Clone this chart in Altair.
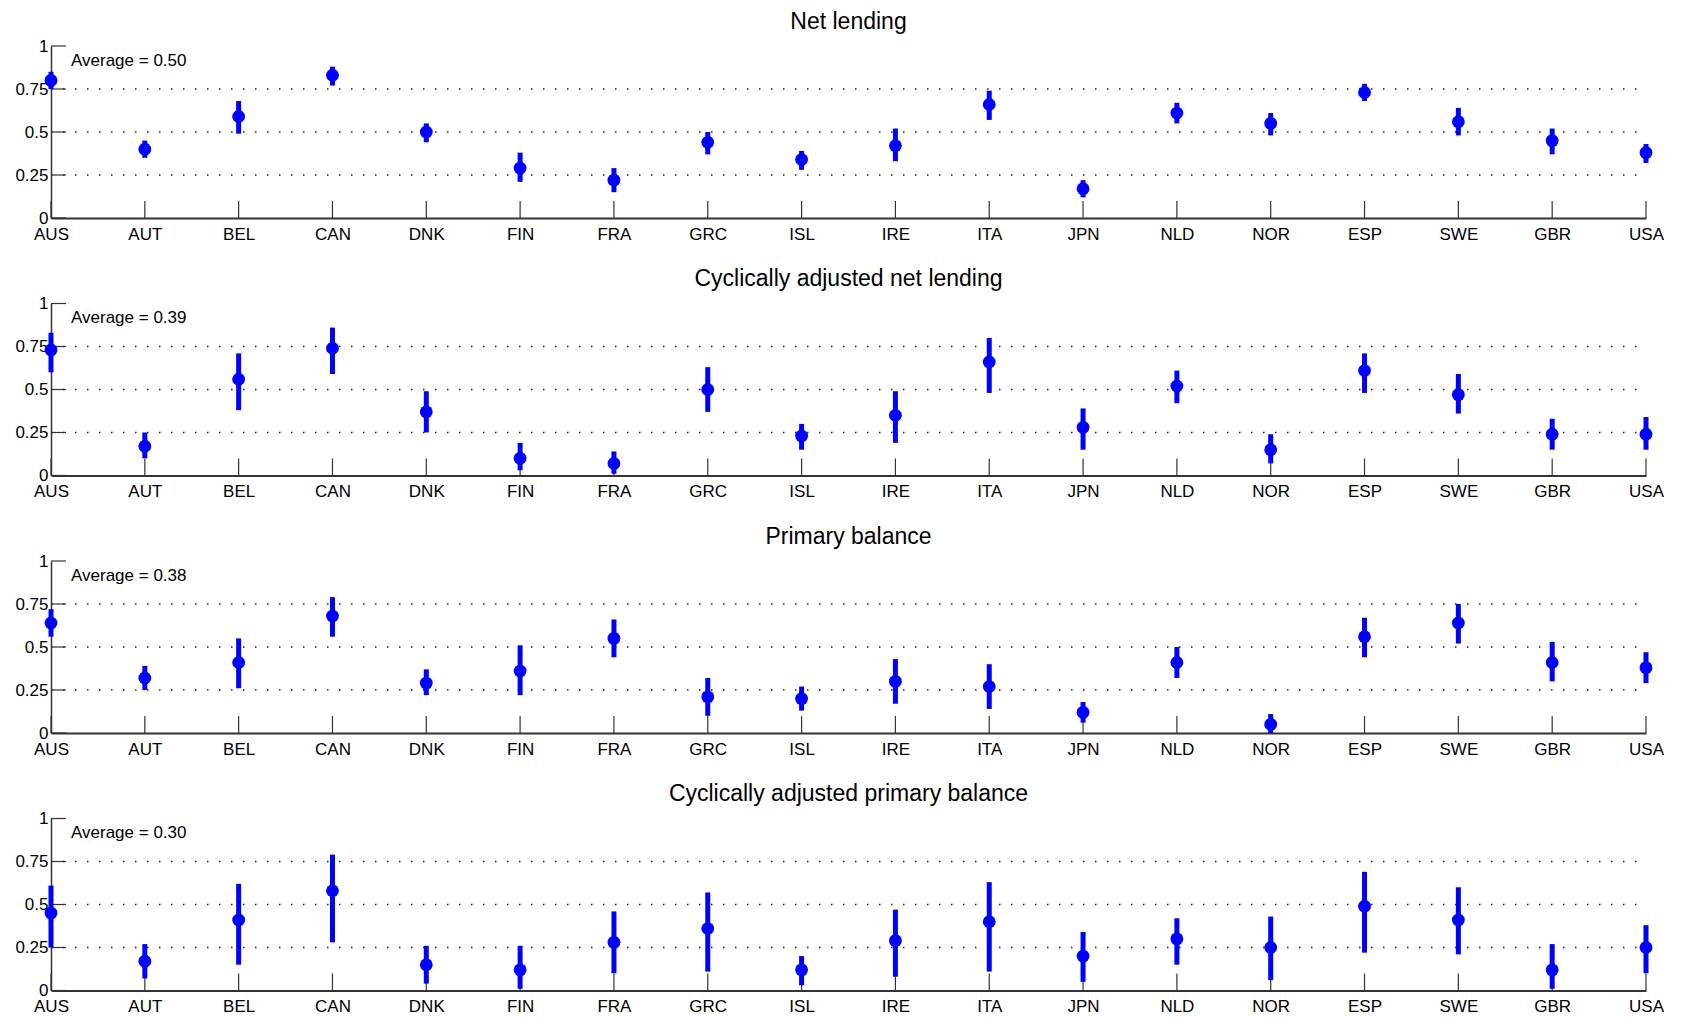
import altair as alt
import pandas as pd

countries = ["AUS", "AUT", "BEL", "CAN", "DNK", "FIN", "FRA", "GRC", "ISL",
             "IRE", "ITA", "JPN", "NLD", "NOR", "ESP", "SWE", "GBR", "USA"]

titles = ["Net lending", "Cyclically adjusted net lending",
          "Primary balance", "Cyclically adjusted primary balance"]
averages = [0.50, 0.39, 0.38, 0.30]

nl_est = [0.80, 0.40, 0.59, 0.83, 0.50, 0.29, 0.22, 0.44, 0.34, 0.42, 0.66, 0.17, 0.61, 0.55, 0.73, 0.56, 0.45, 0.38]
nl_lo = [0.75, 0.35, 0.49, 0.77, 0.44, 0.21, 0.15, 0.37, 0.28, 0.33, 0.57, 0.12, 0.55, 0.48, 0.68, 0.48, 0.37, 0.32]
nl_hi = [0.85, 0.45, 0.68, 0.88, 0.55, 0.38, 0.29, 0.50, 0.39, 0.52, 0.74, 0.22, 0.67, 0.61, 0.78, 0.64, 0.52, 0.43]

canl_est = [0.73, 0.17, 0.56, 0.74, 0.37, 0.10, 0.07, 0.50, 0.23, 0.35, 0.66, 0.28, 0.52, 0.15, 0.61, 0.47, 0.24, 0.24]
canl_lo = [0.60, 0.10, 0.38, 0.59, 0.25, 0.03, 0.01, 0.37, 0.15, 0.19, 0.48, 0.15, 0.42, 0.07, 0.48, 0.36, 0.15, 0.15]
canl_hi = [0.83, 0.25, 0.71, 0.86, 0.49, 0.19, 0.14, 0.63, 0.30, 0.49, 0.80, 0.39, 0.61, 0.24, 0.71, 0.59, 0.33, 0.34]

pb_est = [0.64, 0.32, 0.41, 0.68, 0.29, 0.36, 0.55, 0.21, 0.20, 0.30, 0.27, 0.12, 0.41, 0.05, 0.56, 0.64, 0.41, 0.38]
pb_lo = [0.56, 0.25, 0.26, 0.56, 0.22, 0.22, 0.44, 0.10, 0.13, 0.17, 0.14, 0.06, 0.32, 0.00, 0.44, 0.52, 0.30, 0.29]
pb_hi = [0.72, 0.39, 0.55, 0.79, 0.37, 0.51, 0.66, 0.32, 0.27, 0.43, 0.40, 0.18, 0.50, 0.11, 0.67, 0.75, 0.53, 0.47]

capb_est = [0.45, 0.17, 0.41, 0.58, 0.15, 0.12, 0.28, 0.36, 0.12, 0.29, 0.40, 0.20, 0.30, 0.25, 0.49, 0.41, 0.12, 0.25]
capb_lo = [0.25, 0.07, 0.15, 0.28, 0.04, 0.01, 0.10, 0.11, 0.03, 0.08, 0.11, 0.05, 0.15, 0.06, 0.22, 0.21, 0.01, 0.10]
capb_hi = [0.61, 0.27, 0.62, 0.79, 0.26, 0.26, 0.46, 0.57, 0.20, 0.47, 0.63, 0.34, 0.42, 0.43, 0.69, 0.60, 0.27, 0.38]

y_ticks = [0, 0.25, 0.5, 0.75, 1]
grid_vals = [0.25, 0.5, 0.75]

series = [(nl_est, nl_lo, nl_hi), (canl_est, canl_lo, canl_hi),
          (pb_est, pb_lo, pb_hi), (capb_est, capb_lo, capb_hi)]

W = 1595
H = 172
BLUE = "#0000ff"
AXIS_COL = "#333333"

yscale = alt.Scale(domain=[0, 1], nice=False, zero=False)
xscale = alt.Scale(type="point", padding=0)

yaxis = alt.Axis(values=y_ticks, format=".2~f", ticks=False, grid=False,
                 domainColor=AXIS_COL, domainWidth=1.5, labelFontSize=17,
                 labelPadding=3, labelColor="black", title=None)
xaxis = alt.Axis(labelAngle=0, ticks=False, grid=False,
                 domainColor=AXIS_COL, domainWidth=2,
                 labelFontSize=17, labelPadding=8,
                 labelColor="black", title=None)


def Y(field):
    return alt.Y(field, scale=yscale, axis=yaxis, title=None)


def panel(title, avg, est, lo, hi):
    df = pd.DataFrame({"country": countries, "est": est, "lo": lo, "hi": hi})
    xenc = alt.X("country:N", sort=countries, scale=xscale, axis=xaxis, title=None)
    base = alt.Chart(df)

    xt = base.mark_rule(color=AXIS_COL, strokeWidth=1.2).encode(
        x=xenc, y=alt.value(H), y2=alt.value(H - 17))

    grid = alt.Chart(pd.DataFrame({"g": grid_vals})).mark_rule(
        color="#222222", strokeWidth=1.3, strokeDash=[1.5, 10.5]
    ).encode(y=Y("g:Q"), x=alt.value(0), x2=alt.value(W))

    yt = alt.Chart(pd.DataFrame({"t": y_ticks})).mark_rule(
        color=AXIS_COL, strokeWidth=1.2
    ).encode(y=Y("t:Q"), x=alt.value(0), x2=alt.value(15))

    bars = base.mark_rule(color=BLUE, strokeWidth=5).encode(
        x=xenc, y=Y("lo:Q"), y2="hi:Q")

    pts = base.mark_circle(color=BLUE, size=165, opacity=1).encode(
        x=xenc, y=Y("est:Q"))

    txt = alt.Chart(pd.DataFrame({"label": [f"Average = {avg:.2f}"]})).mark_text(
        align="left", baseline="middle", fontSize=17, color="black"
    ).encode(x=alt.value(20), y=alt.value(14.5), text="label:N")

    return alt.layer(xt, grid, yt, bars, pts, txt).properties(
        width=W, height=H,
        title=alt.TitleParams(title, fontSize=23, fontWeight="normal",
                              anchor="middle", offset=3.5, color="black"))


panels = [panel(t, a, *s) for t, a, s in zip(titles, averages, series)]

chart = alt.vconcat(*panels, spacing=25.5).properties(
    padding={"left": 14, "top": 10, "right": 0, "bottom": 0}
).configure(font="Liberation Sans").configure_view(stroke=None)

chart.save("out.html", embed_options={"renderer": "svg", "actions": False})
